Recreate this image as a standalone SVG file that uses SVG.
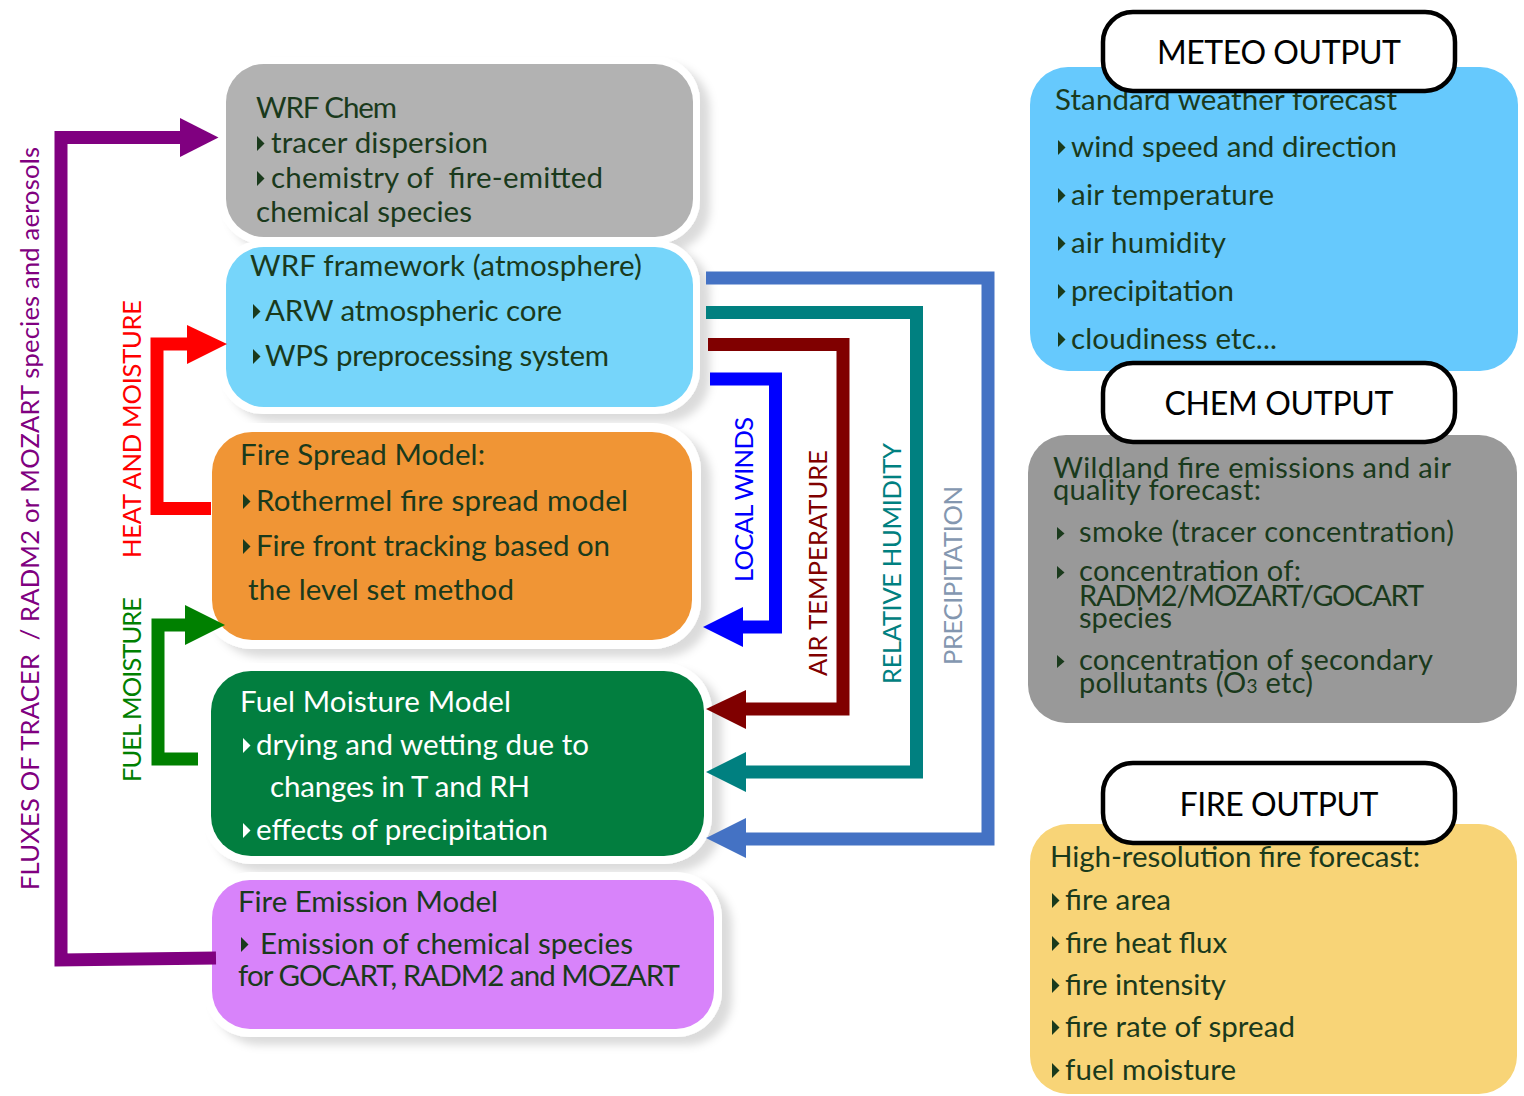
<svg xmlns="http://www.w3.org/2000/svg" xmlns:xlink="http://www.w3.org/1999/xlink" width="1524" height="1096" viewBox="0 0 1524 1096">
<defs>
<filter id="sh" x="-10%" y="-15%" width="130%" height="140%">
<feDropShadow dx="10" dy="8" stdDeviation="4" flood-color="#000" flood-opacity="0.14"/>
</filter>
<polygon id="bul" points="0,-17 7.5,-9.5 0,-2"/>
<polygon id="bulc" points="0,-15 7.5,-8.5 0,-2"/>
</defs>
<style>
text{font-family:Lato,"Open Sans","Liberation Sans",sans-serif;white-space:pre}
.t{font-size:29.5px;fill:#1a3a1c}
.w{font-size:29.5px;fill:#ffffff}
.c{font-size:29px;fill:#1a3a1c}
.lab{font-size:32px;fill:#000;text-anchor:middle}
.lbox{fill:#fff;stroke:#000;stroke-width:4.5}
.halo{fill:#fff;filter:url(#sh)}
.v{font-size:25.5px;text-anchor:middle}
.con{fill:none;stroke-width:13;stroke-linejoin:miter;stroke-linecap:butt}
use{fill:#1a3a1c}
</style>

<g id="wrf-chem">
<rect class="halo" x="219" y="57" width="481" height="187" rx="44"/>
<rect x="226" y="64" width="467" height="173" rx="38" fill="#b2b2b2"/>
<text class="t" x="256" y="118" textLength="141">WRF Chem</text>
<use href="#bul" x="257" y="153"/>
<text class="t" x="271" y="153" textLength="217">tracer dispersion</text>
<use href="#bul" x="257" y="188"/>
<text class="t" x="271" y="188" textLength="332">chemistry of  fire-emitted</text>
<text class="t" x="256" y="222" textLength="216">chemical species</text>
</g>

<g id="wrf-framework">
<rect class="halo" x="219" y="240" width="481" height="174" rx="44"/>
<rect x="226" y="247" width="467" height="160" rx="38" fill="#76d5fa"/>
<text class="t" x="250" y="276" textLength="392">WRF framework (atmosphere)</text>
<use href="#bul" x="253" y="321"/>
<text class="t" x="265" y="321" textLength="297">ARW atmospheric core</text>
<use href="#bul" x="253" y="366"/>
<text class="t" x="265" y="366" textLength="344">WPS preprocessing system</text>
</g>

<g id="fire-spread">
<rect class="halo" x="203" y="423" width="498" height="226" rx="48"/>
<rect x="212" y="432" width="480" height="208" rx="40" fill="#f09535"/>
<text class="t" x="240" y="465" textLength="245">Fire Spread Model:</text>
<use href="#bul" x="243" y="511"/>
<text class="t" x="256" y="511" textLength="372">Rothermel fire spread model</text>
<use href="#bul" x="243" y="556"/>
<text class="t" x="256" y="556" textLength="354">Fire front tracking based on</text>
<text class="t" x="248" y="600" textLength="266">the level set method</text>
</g>

<g id="fuel-moisture">
<rect class="halo" x="203" y="663" width="509" height="201" rx="48"/>
<rect x="211" y="671" width="493" height="185" rx="40" fill="#027e3f"/>
<text class="w" x="240" y="712" textLength="271">Fuel Moisture Model</text>
<use href="#bul" x="243" y="755" style="fill:#fff"/>
<text class="w" x="256" y="755" textLength="333">drying and wetting due to</text>
<text class="w" x="270" y="797" textLength="260">changes in T and RH</text>
<use href="#bul" x="243" y="840" style="fill:#fff"/>
<text class="w" x="256" y="840" textLength="292">effects of precipitation</text>
</g>

<g id="fire-emission">
<rect class="halo" x="204" y="872" width="518" height="165" rx="46"/>
<rect x="212" y="880" width="502" height="149" rx="38" fill="#d883fa"/>
<text class="t" x="238" y="912" textLength="260">Fire Emission Model</text>
<use href="#bul" x="241" y="954"/>
<text class="t" x="260" y="954" textLength="373">Emission of chemical species</text>
<text class="t" x="238" y="986" textLength="442">for GOCART, RADM2 and MOZART</text>
</g>

<g id="meteo-output">
<rect x="1030" y="67" width="488" height="304" rx="38" fill="#66c9fd"/>
<text class="t" x="1055" y="110" textLength="342">Standard weather forecast</text>
<use href="#bul" x="1058" y="157"/>
<text class="t" x="1071" y="157" textLength="326">wind speed and direction</text>
<use href="#bul" x="1058" y="205"/>
<text class="t" x="1071" y="205" textLength="203">air temperature</text>
<use href="#bul" x="1058" y="253"/>
<text class="t" x="1071" y="253" textLength="155">air humidity</text>
<use href="#bul" x="1058" y="301"/>
<text class="t" x="1071" y="301" textLength="163">precipitation</text>
<use href="#bul" x="1058" y="349"/>
<text class="t" x="1071" y="349" textLength="206">cloudiness etc...</text>
<rect class="lbox" x="1103" y="12" width="352" height="79" rx="30"/>
<text class="lab" x="1279" y="64" textLength="244">METEO OUTPUT</text>
</g>

<g id="chem-output">
<rect x="1028" y="435" width="489" height="288" rx="38" fill="#999999"/>
<text class="c" x="1053" y="478" textLength="398">Wildland fire emissions and air</text>
<text class="c" x="1053" y="500" textLength="208">quality forecast:</text>
<use href="#bulc" x="1057" y="542"/>
<text class="c" x="1079" y="542" textLength="375">smoke (tracer concentration)</text>
<use href="#bulc" x="1057" y="581"/>
<text class="c" x="1079" y="581" textLength="222">concentration of:</text>
<text class="c" x="1079" y="606" textLength="345">RADM2/MOZART/GOCART</text>
<text class="c" x="1079" y="628" textLength="93">species</text>
<use href="#bulc" x="1057" y="670"/>
<text class="c" x="1079" y="670" textLength="354">concentration of secondary</text>
<text class="c" x="1079" y="693" textLength="234">pollutants (O<tspan font-size="19px">3</tspan> etc)</text>
<rect class="lbox" x="1103" y="363" width="352" height="79" rx="30"/>
<text class="lab" x="1279" y="415" textLength="229">CHEM OUTPUT</text>
</g>

<g id="fire-output">
<rect x="1030" y="824" width="487" height="270" rx="38" fill="#f8d477"/>
<text class="t" x="1050" y="867" textLength="370">High-resolution fire forecast:</text>
<use href="#bul" x="1052" y="910"/>
<text class="t" x="1065" y="910" textLength="106">fire area</text>
<use href="#bul" x="1052" y="953"/>
<text class="t" x="1065" y="953" textLength="162">fire heat flux</text>
<use href="#bul" x="1052" y="995"/>
<text class="t" x="1065" y="995" textLength="161">fire intensity</text>
<use href="#bul" x="1052" y="1037"/>
<text class="t" x="1065" y="1037" textLength="230">fire rate of spread</text>
<use href="#bul" x="1052" y="1080"/>
<text class="t" x="1065" y="1080" textLength="171">fuel moisture</text>
<rect class="lbox" x="1103" y="763" width="352" height="80" rx="30"/>
<text class="lab" x="1279" y="816" textLength="199">FIRE OUTPUT</text>
</g>

<g id="connectors">
<path class="con" stroke="#800080" d="M216,958 L61,960 L61,137.5 L181,137.5"/>
<polygon fill="#800080" points="180,118 218.5,137.5 180,157"/>
<path class="con" stroke="#ff0000" d="M211,508.5 L157,508.5 L157,344 L188,344"/>
<polygon fill="#ff0000" points="187,325 227,344 187,364"/>
<path class="con" stroke="#008000" stroke-width="14" d="M198,759 L158,759 L158,625 L186,625"/>
<polygon fill="#008000" points="185,605 225,625 185,645"/>
<path class="con" stroke="#0000ff" d="M710,379 L775.5,379 L775.5,627 L742,627"/>
<polygon fill="#0000ff" points="743,607 703,627 743,647"/>
<path class="con" stroke="#800000" d="M708,344.5 L843,344.5 L843,709 L745,709"/>
<polygon fill="#800000" points="746,690 706,709 746,729"/>
<path class="con" stroke="#008080" d="M706,312.5 L916.5,312.5 L916.5,772 L745,772"/>
<polygon fill="#008080" points="746,752 706,772 746,792"/>
<path class="con" stroke="#4472c4" d="M706,278 L988,278 L988,839 L745,839"/>
<polygon fill="#4472c4" points="746,818 706,838 746,858"/>
<text class="v" fill="#800080" transform="translate(39,518.5) rotate(-90)" textLength="743">FLUXES OF TRACER  / RADM2 or MOZART species and aerosols</text>
<text class="v" fill="#ff0000" transform="translate(141,429) rotate(-90)" textLength="258">HEAT AND MOISTURE</text>
<text class="v" fill="#008000" transform="translate(140.5,689.5) rotate(-90)" textLength="185">FUEL MOISTURE</text>
<text class="v" fill="#0000ff" transform="translate(753,499.5) rotate(-90)" textLength="165">LOCAL WINDS</text>
<text class="v" fill="#800000" transform="translate(827,563) rotate(-90)" textLength="226">AIR TEMPERATURE</text>
<text class="v" fill="#008080" transform="translate(901,563.5) rotate(-90)" textLength="241">RELATIVE HUMIDITY</text>
<text class="v" fill="#8497b0" transform="translate(961.5,575.5) rotate(-90)" textLength="179">PRECIPITATION</text>
</g>
</svg>
